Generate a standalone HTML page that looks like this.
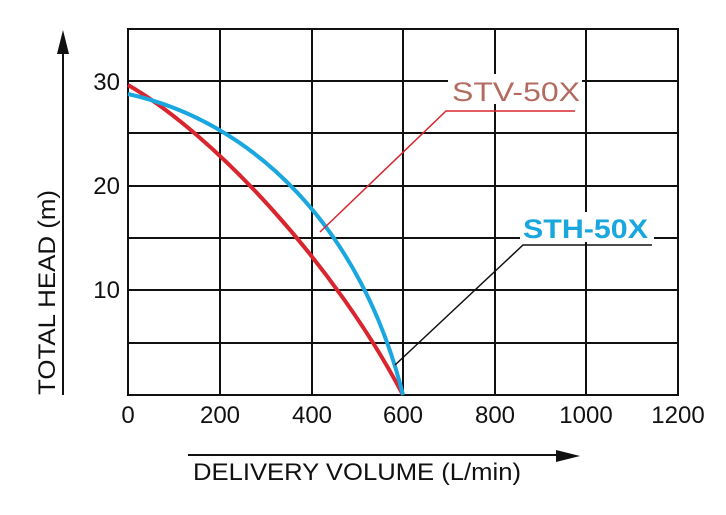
<!DOCTYPE html>
<html><head><style>body{margin:0;background:#fff}</style></head><body>
<svg width="726" height="515" xmlns="http://www.w3.org/2000/svg" style="display:block;font-family:'Liberation Sans',sans-serif">
<g stroke="#111" stroke-width="2" fill="none">
<rect x="128" y="29" width="550" height="366"/>
<line x1="220" y1="29" x2="220" y2="395"/><line x1="312" y1="29" x2="312" y2="395"/>
<line x1="403" y1="29" x2="403" y2="395"/><line x1="495" y1="29" x2="495" y2="395"/>
<line x1="586" y1="29" x2="586" y2="395"/>
<line x1="128" y1="81" x2="678" y2="81"/><line x1="128" y1="133" x2="678" y2="133"/>
<line x1="128" y1="186" x2="678" y2="186"/><line x1="128" y1="238" x2="678" y2="238"/>
<line x1="128" y1="290" x2="678" y2="290"/><line x1="128" y1="343" x2="678" y2="343"/>
</g>
<rect x="448" y="74" width="134" height="30" fill="#fff"/>
<rect x="520" y="212" width="134" height="30" fill="#fff"/>
<path d="M128,85 C215,135 335,265 403,395" stroke="#d9262e" stroke-width="4" fill="none"/>
<path d="M128,94 C255,122 362,230 403,395" stroke="#1aa7e0" stroke-width="4" fill="none"/>
<polyline points="320,232 446,111 575,111" stroke="#d9262e" stroke-width="1.5" fill="none"/>
<polyline points="395,365 523,245 652,245" stroke="#111" stroke-width="1.5" fill="none"/>
<text x="452" y="101" font-size="27" fill="#b36a60" textLength="128" lengthAdjust="spacingAndGlyphs">STV-50X</text>
<text x="523" y="238" font-size="27" font-weight="bold" fill="#1aa7e0" textLength="125" lengthAdjust="spacingAndGlyphs">STH-50X</text>
<g font-size="24" fill="#111" text-anchor="end">
<text x="120" y="90">30</text><text x="120" y="194">20</text><text x="120" y="298">10</text>
</g>
<g font-size="24" fill="#111" text-anchor="middle">
<text x="128" y="423">0</text><text x="220" y="423">200</text><text x="312" y="423">400</text>
<text x="403" y="423">600</text><text x="495" y="423">800</text><text x="586" y="423">1000</text><text x="678" y="423">1200</text>
</g>
<line x1="63" y1="395" x2="63" y2="50" stroke="#111" stroke-width="2"/>
<polygon points="63,30 57,54 69,54" fill="#111"/>
<line x1="188" y1="455" x2="560" y2="455" stroke="#111" stroke-width="2"/>
<polygon points="580,456 556,450 556,462" fill="#111"/>
<text x="193" y="480" font-size="24" fill="#111" textLength="328" lengthAdjust="spacingAndGlyphs">DELIVERY VOLUME (L/min)</text>
<text transform="translate(55,395) rotate(-90)" font-size="24" fill="#111" textLength="205" lengthAdjust="spacingAndGlyphs">TOTAL HEAD (m)</text>
</svg>
</body></html>
